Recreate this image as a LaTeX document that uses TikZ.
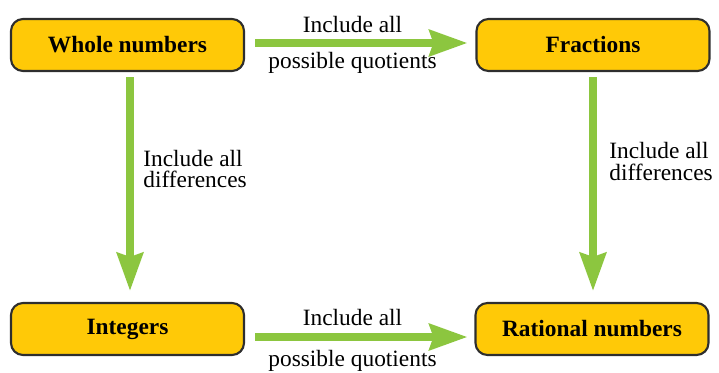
\documentclass[tikz,border=0pt]{standalone}
\usepackage{fontspec}
\setmainfont{Liberation Serif}
\usetikzlibrary{arrows.meta}

\definecolor{boxyellow}{HTML}{FFC907}
\definecolor{boxedge}{HTML}{2E2E2E}
\definecolor{arrowgreen}{HTML}{8CC63F}

\tikzset{
    setbox/.style={draw=boxedge, line width=1.2pt, fill=boxyellow, rounded corners=0.24cm,
        minimum width=4.66cm, minimum height=1.04cm, font=\fontsize{13.3}{14}\selectfont\bfseries},
    widen/.style={draw=arrowgreen, line width=0.15cm,
        -{Stealth[length=0.76cm, width=0.52cm, inset=0.08cm]}},
    note/.style={inner sep=0pt, font=\fontsize{13.3}{14}\selectfont}
}

\begin{document}
\begin{tikzpicture}
            \useasboundingbox (0, 0) rectangle (14.38, 7.44);

            \node[setbox] (whole) at (2.55, 6.54) {Whole numbers};
            \node[setbox] (frac) at (11.86, 6.54) {Fractions};
            \node[setbox] (int) at (2.55, 0.86) {Integers};
            \node[setbox] (rat) at (11.84, 0.86) {Rational numbers};

            \node[note, anchor=base] (q1a) at (7.05, 6.80) {Include all};
            \node[note, anchor=base] (q1b) at (7.05, 6.08) {possible quotients};
            \node[note, anchor=base] (q2a) at (7.05, 0.94) {Include all};
            \node[note, anchor=base] (q2b) at (7.05, 0.12) {possible quotients};
            \node[note, anchor=base west] (d1a) at (2.86, 4.12) {Include all};
            \node[note, anchor=base west] (d1b) at (2.86, 3.70) {differences};
            \node[note, anchor=base west] (d2a) at (12.18, 4.28) {Include all};
            \node[note, anchor=base west] (d2b) at (12.18, 3.84) {differences};

            \draw[widen, shorten <=0.2cm, shorten >=0.16cm] ([yshift=0.04cm]whole.east) -- ([yshift=0.04cm]frac.west);
            \draw[widen, shorten <=0.2cm, shorten >=0.14cm] ([yshift=-0.16cm]int.east) -- ([yshift=-0.16cm]rat.west);
            \draw[widen, shorten <=0.1cm, shorten >=0.22cm] ([xshift=0.05cm]whole.south) -- ([xshift=0.05cm]int.north);
            \draw[widen, shorten <=0.1cm, shorten >=0.22cm] (frac.south) -- (frac.south |- rat.north);
\end{tikzpicture}
\end{document}
